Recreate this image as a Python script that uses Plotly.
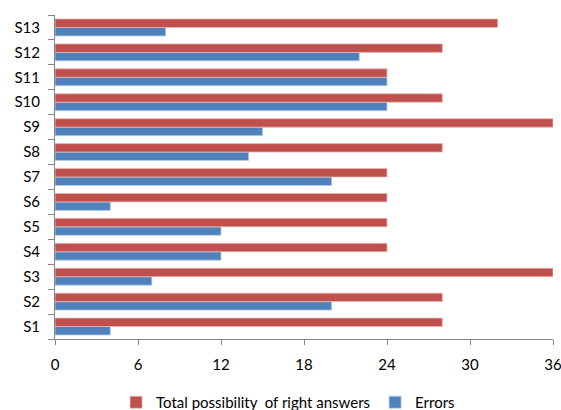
import plotly.graph_objects as go

categories = ["S1", "S2", "S3", "S4", "S5", "S6", "S7", "S8", "S9", "S10", "S11", "S12", "S13"]
total_right = [28, 28, 36, 24, 24, 24, 24, 28, 36, 28, 24, 28, 32]
errors = [4, 20, 7, 12, 12, 4, 20, 14, 15, 24, 24, 22, 8]
x_ticks = [0, 6, 12, 18, 24, 30, 36]

fig = go.Figure()
fig.add_trace(go.Bar(
    y=categories, x=errors, orientation="h", name="Errors",
    marker=dict(color="#4F81BD", line=dict(color="#B9CDE5", width=0.8)),
))
fig.add_trace(go.Bar(
    y=categories, x=total_right, orientation="h", name="Total possibility  of right answers",
    marker=dict(color="#C0504D", line=dict(color="#E6B9B8", width=0.8)),
))

fig.update_layout(
    width=561, height=410,
    margin=dict(l=55, r=8, t=15, b=71, autoexpand=False),
    paper_bgcolor="white", plot_bgcolor="white",
    barmode="group", bargap=0.32, bargroupgap=0,
    font=dict(family="Lato, Open Sans, sans-serif", size=15, color="black"),
    showlegend=True,
    legend=dict(orientation="h", x=0.468, xanchor="center", y=-0.145, yanchor="top",
                traceorder="reversed", font=dict(size=15), itemwidth=30),
)
fig.update_xaxes(
    range=[0, 36], tickvals=x_ticks, ticktext=[str(v) for v in x_ticks],
    showgrid=False, zeroline=False, showline=True, linecolor="#868686", linewidth=1,
    ticks="outside", ticklen=5, tickcolor="#868686", automargin=False,
    ticklabeloverflow="allow", ticklabelstandoff=7,
)
fig.update_yaxes(
    type="category", categoryorder="array", categoryarray=categories,
    showgrid=False, zeroline=False, showline=True, linecolor="#868686", linewidth=1,
    ticks="outside", ticklen=6, tickcolor="#868686", tickson="boundaries", automargin=False,
    ticklabelstandoff=11,
)

fig.write_html(
    "out.html",
    config={"displayModeBar": False},
    post_script="document.documentElement.style.margin='0';document.body.style.margin='0';document.body.style.overflow='hidden';",
)
